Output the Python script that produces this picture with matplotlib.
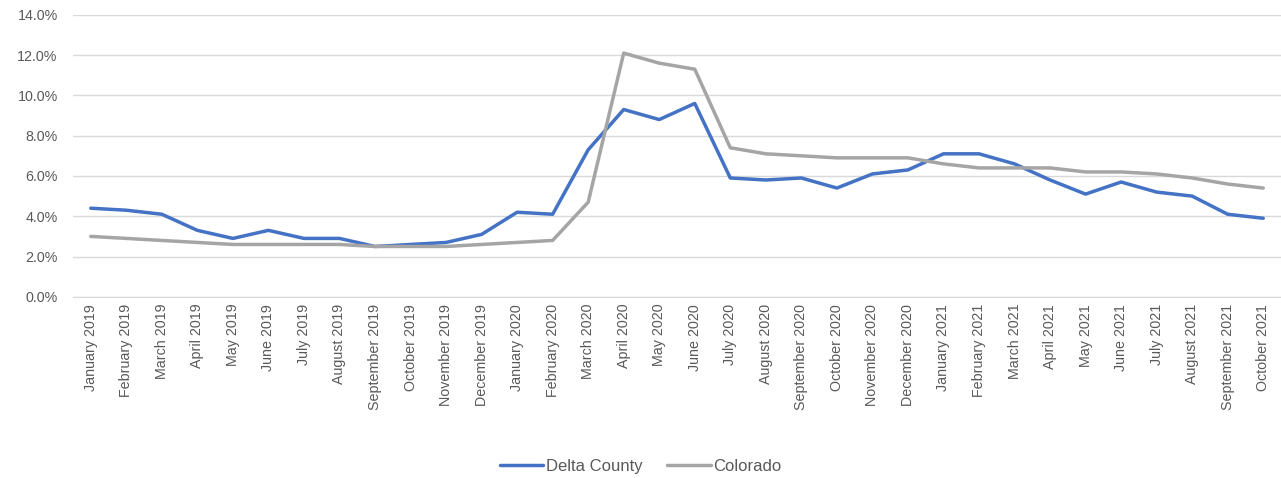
import matplotlib
matplotlib.use("Agg")
import matplotlib.pyplot as plt
from matplotlib.ticker import PercentFormatter

months = ["January", "February", "March", "April", "May", "June", "July",
          "August", "September", "October", "November", "December"]
labels = [m + " " + str(y) for y in (2019, 2020, 2021) for m in months][:34]

delta_county = [4.4, 4.3, 4.1, 3.3, 2.9, 3.3, 2.9, 2.9, 2.5, 2.6, 2.7, 3.1,
                4.2, 4.1, 7.3, 9.3, 8.8, 9.6, 5.9, 5.8, 5.9, 5.4, 6.1, 6.3,
                7.1, 7.1, 6.6, 5.8, 5.1, 5.7, 5.2, 5.0, 4.1, 3.9]
colorado = [3.0, 2.9, 2.8, 2.7, 2.6, 2.6, 2.6, 2.6, 2.5, 2.5, 2.5, 2.6,
            2.7, 2.8, 4.7, 12.1, 11.6, 11.3, 7.4, 7.1, 7.0, 6.9, 6.9, 6.9,
            6.6, 6.4, 6.4, 6.4, 6.2, 6.2, 6.1, 5.9, 5.6, 5.4]

plt.rcParams["font.family"] = ["Liberation Sans", "DejaVu Sans"]
text_color = "#595959"
grid_color = "#d9d9d9"

fig = plt.figure(figsize=(12.81, 4.78), dpi=100)
ax = fig.add_axes([0.057, 0.379, 0.943, 0.590])

x = range(len(labels))
ax.plot(x, delta_county, color="#4472C4", lw=2.5, label="Delta County",
        solid_joinstyle="round", solid_capstyle="round")
ax.plot(x, colorado, color="#A5A5A5", lw=2.5, label="Colorado",
        solid_joinstyle="round", solid_capstyle="round")

ax.set_xlim(-0.5, len(labels) - 0.5)
ax.set_ylim(0, 14)
ax.set_yticks(range(0, 15, 2))
ax.yaxis.set_major_formatter(PercentFormatter(decimals=1))
ax.set_xticks(list(x))
ax.set_xticklabels(labels, rotation=90)
ax.tick_params(axis="both", length=0, labelsize=10.3, colors=text_color)
ax.tick_params(axis="x", pad=5)
ax.tick_params(axis="y", pad=11)
ax.grid(axis="y", color=grid_color, lw=1)
ax.set_axisbelow(True)
for side in ("top", "right", "left"):
    ax.spines[side].set_visible(False)
ax.spines["bottom"].set_color(grid_color)

leg = fig.legend(loc="center", bbox_to_anchor=(0.5, 0.025), ncol=2, frameon=False,
                 fontsize=12, handlelength=2.6, columnspacing=1.5, handletextpad=0.15)
for t in leg.get_texts():
    t.set_color(text_color)

fig.savefig("out.png", dpi=100)
